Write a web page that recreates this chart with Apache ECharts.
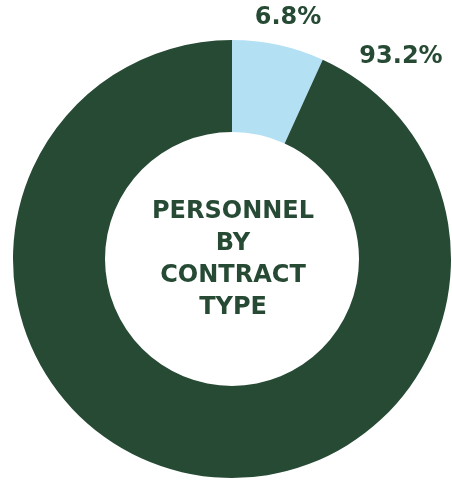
<!DOCTYPE html>
<html>
<head>
<meta charset="utf-8">
<script src="https://cdn.jsdelivr.net/npm/echarts@6/dist/echarts.min.js"></script>
<style>html,body{margin:0;padding:0;background:#fff}#c{width:452px;height:480px}</style>
</head>
<body>
<div id="c"></div>
<script>
var categories = ['Temporary', 'Permanent'];
var values = [6.8, 93.2];
var colors = ['#B4E0F4', '#264A34'];
var centerTitle = 'PERSONNEL\nBY\nCONTRACT\nTYPE';
var labelSpots = [[288, 18], [401, 57]];

var chart = echarts.init(document.getElementById('c'));
chart.setOption({
  animation: false,
  graphic: [{
    type: 'text', x: 233, y: 260,
    style: {
      text: centerTitle,
      fill: '#264A34', font: 'bold 24px "DejaVu Sans"',
      align: 'center', verticalAlign: 'middle', lineHeight: 32
    }
  }],
  series: [{
    type: 'pie',
    center: [232, 259],
    radius: [127, 219],
    startAngle: 90,
    clockwise: true,
    silent: true,
    data: categories.map(function (n, i) {
      return { name: n, value: values[i], itemStyle: { color: colors[i] } };
    }),
    label: {
      show: true, position: 'outside',
      formatter: function (p) { return p.value.toFixed(1) + '%'; },
      color: '#264A34', fontFamily: 'DejaVu Sans', fontWeight: 'bold', fontSize: 24
    },
    labelLine: { show: false },
    labelLayout: function (p) {
      var s = labelSpots[p.dataIndex];
      return { x: s[0], y: s[1], align: 'center', verticalAlign: 'middle' };
    }
  }]
});
</script>
</body>
</html>
